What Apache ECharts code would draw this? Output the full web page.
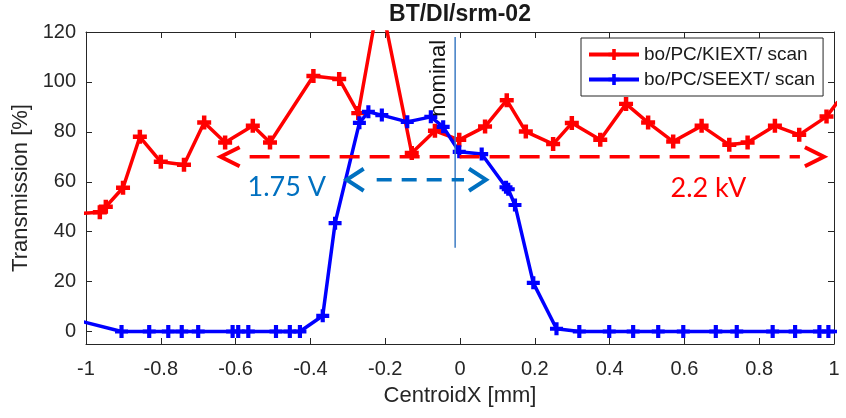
<!DOCTYPE html>
<html>
<head>
<meta charset="utf-8">
<script src="https://cdn.jsdelivr.net/npm/echarts@6/dist/echarts.min.js"></script>
<style>
html,body{margin:0;padding:0;background:#fff;}
#chart{width:846px;height:418px;}
</style>
</head>
<body>
<div id="chart"></div>
<script>
// ---- data ----
const titleText = 'BT/DI/srm-02';
const xTicks = [-1, -0.8, -0.6, -0.4, -0.2, 0, 0.2, 0.4, 0.6, 0.8, 1];
const yTicks = [0, 20, 40, 60, 80, 100, 120];
const seriesNames = ['bo/PC/KIEXT/ scan', 'bo/PC/SEEXT/ scan'];

const kiextX = [-1.01, -0.963, -0.947, -0.901, -0.856, -0.80, -0.738, -0.684, -0.628, -0.554, -0.508, -0.392, -0.323, -0.272, -0.215, -0.129, -0.067, -0.002, 0.067, 0.125, 0.176, 0.249, 0.299, 0.375, 0.444, 0.503, 0.570, 0.646, 0.720, 0.769, 0.842, 0.907, 0.980, 1.01];
const kiextY = [47.3, 47.8, 50.0, 57.6, 78.0, 68.0, 66.8, 83.7, 75.7, 82.4, 75.7, 102.4, 101.2, 87.5, 135.0, 71.5, 80.4, 76.8, 82.1, 92.7, 80.1, 75.1, 83.5, 76.8, 91.2, 83.7, 76.1, 82.4, 74.8, 75.7, 82.4, 78.8, 86.1, 92.0];

const seextX = [-1.01, -0.905, -0.831, -0.780, -0.744, -0.700, -0.608, -0.593, -0.566, -0.492, -0.455, -0.428, -0.367, -0.334, -0.269, -0.245, -0.209, -0.141, -0.078, -0.045, -0.002, 0.058, 0.123, 0.129, 0.147, 0.196, 0.258, 0.319, 0.399, 0.463, 0.530, 0.597, 0.684, 0.740, 0.836, 0.896, 0.961, 0.985, 1.01];
const seextY = [4.0, 0, 0, 0, 0, 0, 0, 0, 0, 0, 0, 0, 6.3, 43.4, 83.6, 88.0, 86.7, 84.0, 86.0, 82.0, 72.0, 71.1, 57.8, 57.0, 50.7, 19.5, 1.1, 0, 0, 0, 0, 0, 0, 0, 0, 0, 0, 0, 0];

// annotations: [xStart, xEnd, y]
const redArrow = [-0.640, 0.973, 70];
const blueArrow = [-0.303, 0.0695, 60.8];
// [x, y] centers of annotation texts
const redArrowLabelPos = [0.664, 57.4];
const blueArrowLabelPos = [-0.463, 57.6];
const redArrowLabel = '2.2 kV';
const blueArrowLabel = '1.75 V';
// nominal line: [x, yBottom, yTop], text anchor y
const nominalLine = [-0.013, 33.6, 118];
const nominalText = 'nominal';
const nominalTextY = 86;

// ---- chart ----
const chart = echarts.init(document.getElementById('chart'), null, {renderer: 'canvas'});
const FONT = '"Liberation Sans", Arial, Helvetica, sans-serif';
const AX = '#262626';
const PLUS = 'path://M3.4,0H6.6V3.4H10V6.6H6.6V10H3.4V6.6H0V3.4H3.4Z';

function zip(xs, ys) { return xs.map((x, i) => [x, ys[i]]); }

function arrowRender(color, dash, L, H, gapStart, gapEnd) {
  return function (params, api) {
    const p1 = api.coord([api.value(0), api.value(2)]);
    const p2 = api.coord([api.value(1), api.value(2)]);
    return {
      type: 'group',
      children: [
        {type: 'line', shape: {x1: p1[0] + gapStart, y1: p1[1], x2: p2[0] - gapEnd, y2: p2[1]},
         style: {stroke: color, lineWidth: 3.5, lineDash: dash, fill: null}},
        {type: 'polyline', shape: {points: [[p1[0] + L, p1[1] - H], [p1[0], p1[1]], [p1[0] + L, p1[1] + H]]},
         style: {stroke: color, lineWidth: 4, fill: null}},
        {type: 'polyline', shape: {points: [[p2[0] - L, p2[1] - H], [p2[0], p2[1]], [p2[0] - L, p2[1] + H]]},
         style: {stroke: color, lineWidth: 4, fill: null}}
      ]
    };
  };
}

function textRender(text, color) {
  return function (params, api) {
    const p = api.coord([api.value(0), api.value(1)]);
    return {
      type: 'text', x: p[0], y: p[1],
      style: {text: text, fill: color, font: '27px Lato, "Open Sans", sans-serif', align: 'center', verticalAlign: 'middle'}
    };
  };
}

const option = {
  animation: false,
  backgroundColor: '#ffffff',
  title: {
    text: titleText, left: 460, top: 3, textAlign: 'center', padding: 0,
    textStyle: {fontFamily: FONT, fontSize: 23, fontWeight: 'bold', color: '#1a1a1a'}
  },
  legend: {
    data: seriesNames, orient: 'vertical', left: 581, top: 38,
    padding: [7, 8, 7, 6], itemGap: 6, itemWidth: 50, itemHeight: 14,
    borderColor: AX, borderWidth: 1, backgroundColor: '#fff',
    lineStyle: {width: 4},
    textStyle: {fontFamily: FONT, fontSize: 19, color: '#1a1a1a'}
  },
  grid: {left: 86, right: 12, top: 32, bottom: 74},
  xAxis: [
    {
      type: 'value', min: -1, max: 1, position: 'bottom',
      name: 'CentroidX [mm]', nameLocation: 'middle', nameGap: 41,
      nameTextStyle: {fontFamily: FONT, fontSize: 22, color: AX},
      axisLine: {show: true, onZero: false, lineStyle: {color: AX, width: 1}},
      axisTick: {show: true, inside: true, length: 6, customValues: xTicks, lineStyle: {color: AX}},
      axisLabel: {customValues: xTicks, fontFamily: FONT, fontSize: 20, color: AX, margin: 15},
      splitLine: {show: false}
    },
    {
      type: 'value', min: -1, max: 1, position: 'top',
      axisLine: {show: true, onZero: false, lineStyle: {color: AX, width: 1}},
      axisTick: {show: true, inside: true, length: 6, customValues: xTicks, lineStyle: {color: AX}},
      axisLabel: {show: false},
      splitLine: {show: false}
    }
  ],
  yAxis: [
    {
      type: 'value', min: -5, max: 120, position: 'left',
      name: 'Transmission [%]', nameLocation: 'middle', nameGap: 50,
      nameTextStyle: {fontFamily: FONT, fontSize: 22, color: AX},
      axisLine: {show: true, onZero: false, lineStyle: {color: AX, width: 1}},
      axisTick: {show: true, inside: true, length: 6, customValues: yTicks, lineStyle: {color: AX}},
      axisLabel: {customValues: yTicks, fontFamily: FONT, fontSize: 20, color: AX, margin: 10},
      splitLine: {show: false}
    },
    {
      type: 'value', min: -5, max: 120, position: 'right',
      axisLine: {show: true, onZero: false, lineStyle: {color: AX, width: 1}},
      axisTick: {show: true, inside: true, length: 6, customValues: yTicks, lineStyle: {color: AX}},
      axisLabel: {show: false},
      splitLine: {show: false}
    }
  ],
  series: [
    {
      name: seriesNames[0], type: 'line', data: zip(kiextX, kiextY),
      symbol: PLUS, symbolSize: 14, clip: true,
      lineStyle: {color: '#ff0000', width: 3.5},
      itemStyle: {color: '#ff0000'}, z: 3
    },
    {
      name: seriesNames[1], type: 'line', data: zip(seextX, seextY),
      symbol: PLUS, symbolSize: 13, clip: true,
      lineStyle: {color: '#0000ff', width: 3.5},
      itemStyle: {color: '#0000ff'}, z: 4
    },
    {
      type: 'custom', data: [nominalLine], z: 5, silent: true,
      renderItem: function (params, api) {
        const pb = api.coord([api.value(0), api.value(1)]);
        const pt = api.coord([api.value(0), api.value(2)]);
        const pn = api.coord([api.value(0), nominalTextY]);
        return {
          type: 'group',
          children: [
            {type: 'line', shape: {x1: pb[0], y1: pb[1], x2: pt[0], y2: pt[1]},
             style: {stroke: '#3d7cc4', lineWidth: 1.5}},
            {type: 'text', x: pb[0] - 5, y: pn[1], rotation: Math.PI / 2,
             style: {text: nominalText, fill: '#111', font: '22px ' + FONT, align: 'left', verticalAlign: 'bottom'}}
          ]
        };
      }
    },
    {
      type: 'custom', data: [redArrow], z: 6, silent: true,
      renderItem: arrowRender('#ff0000', [20, 10], 19, 9.5, 29, 24)
    },
    {
      type: 'custom', data: [blueArrow], z: 6, silent: true,
      renderItem: arrowRender('#0070c0', [15, 10], 17, 11, 30, 22)
    },
    {
      type: 'custom', data: [redArrowLabelPos], z: 6, silent: true,
      renderItem: textRender(redArrowLabel, '#ff0000')
    },
    {
      type: 'custom', data: [blueArrowLabelPos], z: 6, silent: true,
      renderItem: textRender(blueArrowLabel, '#0070c0')
    }
  ]
};
chart.setOption(option);
</script>
</body>
</html>
